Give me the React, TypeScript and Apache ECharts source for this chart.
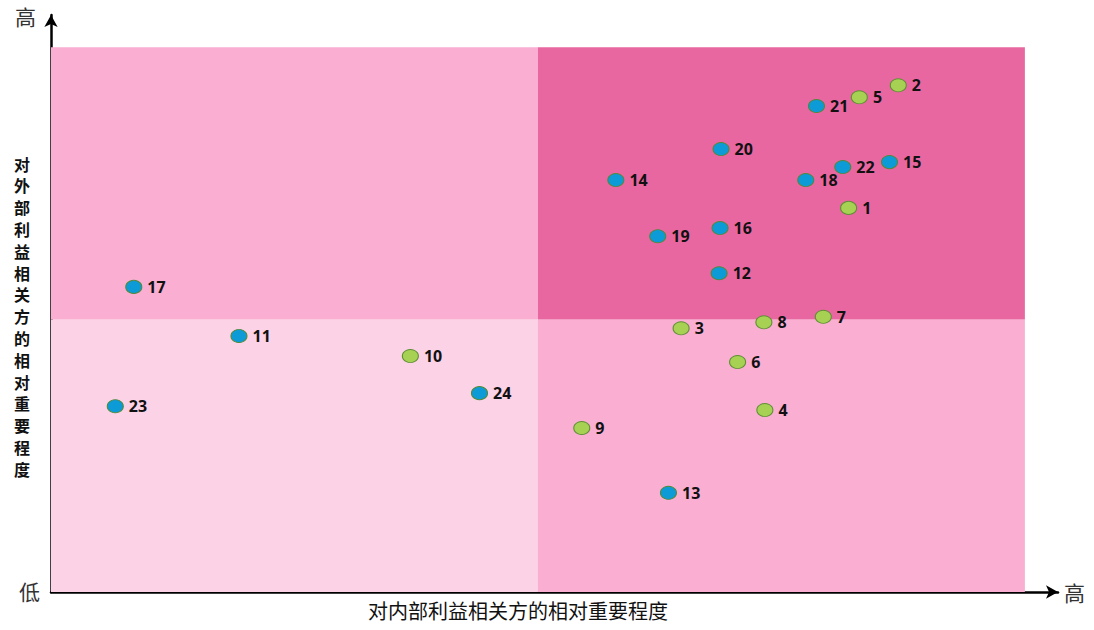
import React, { useEffect, useRef } from "react";
import * as echarts from "echarts";

const ids = ["1","2","3","4","5","6","7","8","9","10","11","12","13","14","15","16","17","18","19","20","21","22","23","24"];
const internalImportance = [81.9, 87.0, 64.7, 73.3, 83.0, 70.5, 79.3, 73.2, 54.5, 36.9, 19.3, 68.6, 63.4, 58.0, 86.1, 68.7, 8.5, 77.5, 62.3, 68.8, 78.6, 81.3, 6.6, 44.0];
const externalImportance = [70.5, 93.0, 48.4, 33.4, 90.8, 42.2, 50.5, 49.5, 30.1, 43.3, 47.0, 58.5, 18.2, 75.6, 78.9, 66.8, 56.0, 75.6, 65.3, 81.3, 89.2, 78.0, 34.1, 36.5];
const groups = ["g","g","g","g","g","g","g","g","g","g","b","b","b","b","b","b","b","b","b","b","b","b","b","b"];

const xTitle = "对内部利益相关方的相对重要程度";
const yTitle = "对外部利益相关方的相对重要程度";
const lowLabel = "低";
const highLabel = "高";

const FONT = "'Noto Sans CJK SC', 'Noto Sans', sans-serif";

export default function App() {
  const ref = useRef<HTMLDivElement>(null);
  useEffect(() => {
    if (!ref.current) return;
    const chart = echarts.init(ref.current, undefined, { renderer: "svg" });
    const mk = (g: string) =>
      ids
        .map((id, i) => ({ id, x: internalImportance[i], y: externalImportance[i], g: groups[i] }))
        .filter((d) => d.g === g)
        .map((d) => ({ value: [d.x, d.y], name: d.id }));
    const labelCfg = {
      show: true,
      position: "right" as const,
      distance: 5,
      formatter: "{b}",
      color: "#111",
      fontSize: 16,
      fontWeight: "bold" as const,
      fontFamily: "'Open Sans', sans-serif",
    };
    const yChars = yTitle.split("").map((ch, i) => ({
      type: "text",
      left: 14,
      top: 153 + i * 21.8,
      style: { text: ch, fontSize: 16, lineHeight: 21, fontWeight: "bold", fill: "#111", fontFamily: FONT },
    }));
    chart.setOption({
      animation: false,
      grid: { left: 51, right: 36, top: 15, bottom: 38 },
      xAxis: {
        type: "value",
        min: 0,
        max: 103.4,
        splitLine: { show: false },
        axisTick: { show: false },
        axisLabel: { show: false },
        axisLine: { show: true, lineStyle: { color: "#000", width: 2.5 }, symbol: ["none", "arrow"], symbolSize: [10, 12] },
      },
      yAxis: {
        type: "value",
        min: 0,
        max: 105.9,
        splitLine: { show: false },
        axisTick: { show: false },
        axisLabel: { show: false },
        axisLine: { show: true, lineStyle: { color: "#000", width: 2.5 }, symbol: ["none", "arrow"], symbolSize: [10, 12] },
      },
      series: [
        {
          type: "scatter",
          data: [],
          silent: true,
          markArea: {
            silent: true,
            data: [
              [{ coord: [0, 0], itemStyle: { color: "#fbd2e6" } }, { coord: [50, 50] }],
              [{ coord: [50, 0], itemStyle: { color: "#f9aed2" } }, { coord: [100, 50] }],
              [{ coord: [0, 50], itemStyle: { color: "#f9aed2" } }, { coord: [50, 100] }],
              [{ coord: [50, 50], itemStyle: { color: "#e967a1" } }, { coord: [100, 100] }],
            ],
          },
        },
        {
          type: "scatter",
          data: mk("b"),
          symbol: "circle",
          symbolSize: [16, 13],
          itemStyle: { color: "#0d9bd7", borderColor: "#4f8a3a", borderWidth: 1, opacity: 1 },
          label: labelCfg,
          z: 5,
        },
        {
          type: "scatter",
          data: mk("g"),
          symbol: "circle",
          symbolSize: [16, 13],
          itemStyle: { color: "#a6d152", borderColor: "#5f8e35", borderWidth: 1, opacity: 1 },
          label: labelCfg,
          z: 5,
        },
      ],
      graphic: [
        { type: "text", left: 15, top: 5, style: { text: highLabel, fontSize: 21, fill: "#333", fontFamily: FONT } },
        { type: "text", left: 19, top: 580, style: { text: lowLabel, fontSize: 21, fill: "#333", fontFamily: FONT } },
        { type: "text", left: 1064, top: 581, style: { text: highLabel, fontSize: 21, fill: "#333", fontFamily: FONT } },
        { type: "text", left: 368, top: 600, style: { text: xTitle, fontSize: 20, fill: "#111", fontFamily: FONT } },
        ...yChars,
      ],
    });
    return () => chart.dispose();
  }, []);
  return <div ref={ref} style={{ width: 1094, height: 630, position: "absolute", left: 0, top: 0 }} />;
}
